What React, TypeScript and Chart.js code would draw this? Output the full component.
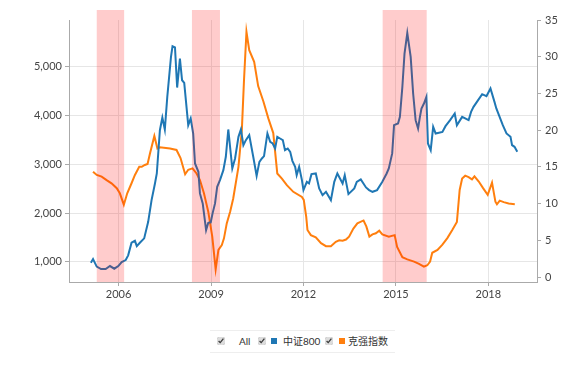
import React, { useEffect, useRef } from "react";
import { Chart, registerables } from "chart.js";

Chart.register(...registerables);

// 中证800 (left axis)
const csi800Dates = [
  2005.10, 2005.17, 2005.29, 2005.43, 2005.58, 2005.72, 2005.86, 2005.99, 2006.10, 2006.23,
  2006.31, 2006.42, 2006.53, 2006.59, 2006.69, 2006.83, 2006.96, 2007.07, 2007.18, 2007.24,
  2007.34, 2007.42, 2007.50, 2007.58, 2007.70, 2007.75, 2007.83, 2007.90, 2007.99, 2008.06,
  2008.13, 2008.26, 2008.34, 2008.42, 2008.48, 2008.59, 2008.64, 2008.73, 2008.84, 2008.91,
  2008.99, 2009.05, 2009.13, 2009.20, 2009.29, 2009.40, 2009.48, 2009.56, 2009.64, 2009.69,
  2009.78, 2009.89, 2009.97, 2010.05, 2010.13, 2010.24, 2010.37, 2010.48, 2010.57, 2010.65,
  2010.72, 2010.83, 2010.92, 2011.00, 2011.08, 2011.15, 2011.24, 2011.33, 2011.40, 2011.49,
  2011.57, 2011.64, 2011.73, 2011.78, 2011.86, 2011.95, 2012.00, 2012.11, 2012.18, 2012.26,
  2012.40, 2012.51, 2012.62, 2012.73, 2012.89, 2013.00, 2013.10, 2013.27, 2013.34, 2013.46,
  2013.65, 2013.73, 2013.86, 2014.03, 2014.13, 2014.24, 2014.39, 2014.56, 2014.70, 2014.77,
  2014.88, 2014.94, 2015.07, 2015.13, 2015.21, 2015.28, 2015.37, 2015.48, 2015.56, 2015.64,
  2015.72, 2015.78, 2015.83, 2015.91, 2015.99, 2016.04, 2016.13, 2016.21, 2016.29, 2016.51,
  2016.61, 2016.76, 2016.91, 2016.98, 2017.15, 2017.36, 2017.44, 2017.52, 2017.63, 2017.80,
  2017.94, 2018.07, 2018.20, 2018.26, 2018.47, 2018.59, 2018.72, 2018.77, 2018.85, 2018.94,
];
const csi800Values = [
  980, 1055, 900, 850, 850, 912, 857, 912, 994, 1035,
  1131, 1390, 1430, 1322, 1390, 1480, 1820, 2265, 2608, 2813,
  3700, 3960, 3716, 4385, 5205, 5425, 5400, 4577, 5170, 4727,
  4672, 3804, 3942, 3634, 3018, 2846, 2403, 2198, 1650, 1800,
  1810, 1993, 2198, 2540, 2676, 2881, 3155, 3716, 3224, 2916,
  3121, 3565, 3716, 3394, 3497, 3599, 3155, 2764, 3052, 3121,
  3168, 3634, 3462, 3428, 3326, 3565, 3531, 3497, 3291, 3326,
  3257, 3072, 2949, 2778, 2949, 2676, 2471, 2641, 2608, 2799,
  2813, 2506, 2368, 2436, 2266, 2641, 2813, 2608, 2778, 2389,
  2506, 2641, 2690, 2526, 2471, 2436, 2471, 2641, 2813, 2916,
  3224, 3804, 3839, 3975, 4590, 5275, 5697, 5205, 4454, 3907,
  3736, 3975, 4147, 4249, 4385, 3428, 3291, 3770, 3634, 3667,
  3784, 3907, 4044, 3804, 3975, 3907, 4078, 4180, 4283, 4440,
  4399, 4557, 4283, 4147, 3804, 3634, 3565, 3394, 3360, 3257,
];

// 克强指数 (right axis)
const keqiangDates = [
  2005.17, 2005.29, 2005.45, 2005.61, 2005.77, 2005.94, 2006.04, 2006.17, 2006.28, 2006.42,
  2006.53, 2006.67, 2006.75, 2006.85, 2006.94, 2007.02, 2007.16, 2007.26, 2007.34, 2007.67,
  2007.88, 2008.01, 2008.16, 2008.26, 2008.40, 2008.53, 2008.64, 2008.77, 2008.91, 2009.04,
  2009.15, 2009.24, 2009.35, 2009.42, 2009.51, 2009.62, 2009.72, 2009.89, 2010.00, 2010.07,
  2010.15, 2010.24, 2010.40, 2010.53, 2010.70, 2010.86, 2011.02, 2011.15, 2011.30, 2011.46,
  2011.67, 2011.95, 2012.01, 2012.09, 2012.13, 2012.24, 2012.40, 2012.57, 2012.73, 2012.89,
  2013.05, 2013.16, 2013.27, 2013.38, 2013.48, 2013.62, 2013.75, 2013.95, 2014.04, 2014.14,
  2014.24, 2014.35, 2014.46, 2014.56, 2014.77, 2014.96, 2015.04, 2015.21, 2015.37, 2015.59,
  2015.75, 2015.91, 2016.02, 2016.11, 2016.18, 2016.35, 2016.51, 2016.67, 2016.83, 2016.98,
  2017.07, 2017.15, 2017.25, 2017.36, 2017.47, 2017.55, 2017.69, 2017.83, 2017.98, 2018.12,
  2018.23, 2018.28, 2018.37, 2018.50, 2018.66, 2018.86,
];
const keqiangValues = [
  14.35, 13.9, 13.67, 13.2, 12.76, 12.1, 11.4, 9.85, 11.4, 12.77,
  13.9, 15.0, 15.0, 15.26, 15.4, 16.85, 19.2, 17.5, 17.67, 17.5,
  17.3, 16.2, 14.0, 14.6, 14.8, 14.1, 13.2, 11.4, 8.9, 5.5,
  1.05, 3.7, 4.36, 5.27, 7.3, 8.9, 10.7, 15.0, 20.0, 26.8,
  33.4, 30.9, 29.3, 26.0, 23.9, 21.6, 19.6, 14.1, 13.4, 12.5,
  11.6, 10.9, 10.5, 8.2, 6.4, 5.7, 5.4, 4.6, 4.2, 4.2,
  4.8, 5.0, 4.95, 5.1, 5.5, 6.6, 7.3, 7.7, 6.9, 5.5,
  5.8, 5.95, 6.3, 5.8, 5.5, 5.7, 4.1, 2.7, 2.4, 2.1,
  1.8, 1.4, 1.6, 2.1, 3.3, 3.7, 4.4, 5.3, 6.4, 7.5,
  11.85, 13.4, 13.8, 13.6, 13.3, 13.7, 13.0, 12.1, 11.2, 12.85,
  10.26, 9.9, 10.4, 10.2, 10.0, 9.9,
];

const bandStarts = [2005.29, 2008.38, 2014.57];
const bandEnds = [2006.18, 2009.29, 2016.0];

const xTicks = [2006, 2009, 2012, 2015, 2018];
const leftTicks = [1000, 2000, 3000, 4000, 5000];
const rightTicks = [0, 5, 10, 15, 20, 25, 30, 35];

const seriesNames = ["中证800", "克强指数"];
const seriesColors = ["#1f77b4", "#ff7f0e"];

const bandPlugin = {
  id: "bands",
  afterDatasetsDraw(chart: any) {
    const { ctx, chartArea, scales } = chart;
    ctx.save();
    ctx.fillStyle = "rgba(255,0,0,0.2)";
    bandStarts.forEach((s, i) => {
      const x0 = scales.x.getPixelForValue(s);
      const x1 = scales.x.getPixelForValue(bandEnds[i]);
      ctx.fillRect(x0, chartArea.top - 10, x1 - x0, chartArea.bottom - chartArea.top + 10);
    });
    ctx.restore();
  },
};

const FONT = "Lato, 'Noto Sans CJK SC', sans-serif";

export default function App() {
  const ref = useRef<HTMLCanvasElement | null>(null);

  useEffect(() => {
    document.body.style.margin = "0";
    if (!ref.current) return;
    const chart = new Chart(ref.current, {
      type: "line",
      data: {
        datasets: [
          {
            label: seriesNames[0],
            data: csi800Dates.map((d, i) => ({ x: d, y: csi800Values[i] })),
            borderColor: seriesColors[0],
            backgroundColor: seriesColors[0],
            borderWidth: 2,
            pointRadius: 0,
            tension: 0,
            yAxisID: "y",
          },
          {
            label: seriesNames[1],
            data: keqiangDates.map((d, i) => ({ x: d, y: keqiangValues[i] })),
            borderColor: seriesColors[1],
            backgroundColor: seriesColors[1],
            borderWidth: 2,
            pointRadius: 0,
            tension: 0,
            yAxisID: "y1",
          },
        ],
      },
      options: {
        responsive: false,
        animation: false,
        layout: { padding: { top: 20, left: 0, right: 0, bottom: 0 } },
        plugins: { legend: { display: false }, tooltip: { enabled: false } },
        scales: {
          x: {
            type: "linear",
            min: 2004.39,
            max: 2019.58,
            afterBuildTicks: (s: any) => {
              s.ticks = xTicks.map((v) => ({ value: v }));
            },
            afterFit: (s: any) => {
              s.height = 28;
            },
            ticks: {
              font: { family: FONT, size: 11 },
              color: "#444",
              padding: 2,
              maxRotation: 0,
              callback: (v: any) => String(v),
            },
            grid: { color: "#e6e6e6", tickLength: 4, tickColor: "#aaa" },
            border: { display: true, color: "#aaa" },
          },
          y: {
            type: "linear",
            position: "left",
            min: 584,
            max: 5964,
            afterBuildTicks: (s: any) => {
              s.ticks = leftTicks.map((v) => ({ value: v }));
            },
            afterFit: (s: any) => {
              s.width = 69;
            },
            ticks: {
              font: { family: FONT, size: 11 },
              color: "#444",
              padding: 3,
              callback: (v: any) => Number(v).toLocaleString("en-US"),
            },
            grid: { color: "#e6e6e6", tickLength: 4, tickColor: "#aaa" },
            border: { display: true, color: "#aaa" },
          },
          y1: {
            type: "linear",
            position: "right",
            min: -0.68,
            max: 35,
            afterBuildTicks: (s: any) => {
              s.ticks = rightTicks.map((v) => ({ value: v }));
            },
            afterFit: (s: any) => {
              s.width = 28;
            },
            ticks: {
              font: { family: FONT, size: 11 },
              color: "#444",
              padding: 4,
            },
            grid: { drawOnChartArea: false, tickLength: 4, tickColor: "#aaa" },
            border: { display: true, color: "#aaa" },
          },
        },
      },
      plugins: [bandPlugin],
    } as any);
    return () => chart.destroy();
  }, []);

  const cb: React.CSSProperties = {
    position: "absolute",
    top: 6,
    width: 8,
    height: 8,
    margin: 0,
    accentColor: "#dcdcdc",
  };
  const txt: React.CSSProperties = {
    position: "absolute",
    top: 4,
    lineHeight: "13px",
    whiteSpace: "nowrap",
  };
  const sq = (c: string, left: number): React.CSSProperties => ({
    position: "absolute",
    left,
    top: 7,
    width: 6,
    height: 6,
    background: c,
  });

  return (
    <div style={{ position: "relative", width: 565, height: 365, background: "#fff" }}>
      <canvas ref={ref} width={565} height={310} style={{ position: "absolute", left: 0, top: 0 }} />
      <div
        style={{
          position: "absolute",
          left: 210,
          top: 330,
          width: 185,
          height: 21,
          borderTop: "1px solid #eee",
          borderBottom: "1px solid #eee",
          fontFamily: FONT,
          fontSize: 10,
          color: "#333",
        }}
      >
        <input type="checkbox" defaultChecked style={{ ...cb, left: 7 }} />
        <span style={{ ...txt, left: 29 }}>All</span>
        <input type="checkbox" defaultChecked style={{ ...cb, left: 48 }} />
        <span style={sq(seriesColors[0], 61)} />
        <span style={{ ...txt, left: 73 }}>{seriesNames[0]}</span>
        <input type="checkbox" defaultChecked style={{ ...cb, left: 115 }} />
        <span style={sq(seriesColors[1], 129)} />
        <span style={{ ...txt, left: 138 }}>{seriesNames[1]}</span>
      </div>
    </div>
  );
}
